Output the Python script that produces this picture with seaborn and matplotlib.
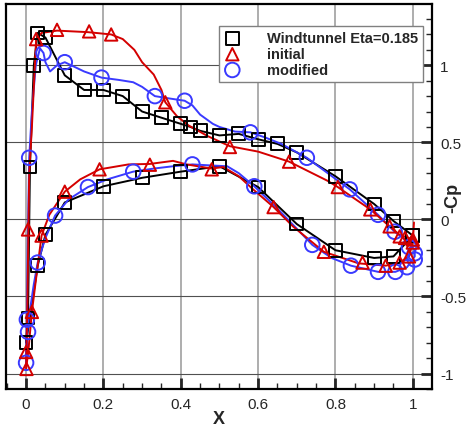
import matplotlib
matplotlib.use("Agg")
import matplotlib.pyplot as plt
from matplotlib.ticker import MultipleLocator, FuncFormatter
import seaborn as sns

# Windtunnel measurement (upper TE -> LE -> lower TE)
wt_x = [1.0, 0.95, 0.90, 0.80, 0.70, 0.65, 0.60, 0.55, 0.50, 0.45, 0.425, 0.40,
        0.35, 0.30, 0.25, 0.20, 0.15, 0.10, 0.05, 0.03, 0.02, 0.01, 0.005, 0.0,
        0.03, 0.05, 0.10, 0.20, 0.30, 0.40, 0.50, 0.60, 0.70, 0.80, 0.90, 0.95, 1.0]
wt_y = [-0.105, -0.01, 0.10, 0.28, 0.435, 0.49, 0.52, 0.555, 0.545, 0.575, 0.60, 0.62,
        0.66, 0.70, 0.80, 0.84, 0.84, 0.935, 1.18, 1.21, 1.0, 0.34, -0.64, -0.80,
        -0.30, -0.10, 0.11, 0.215, 0.27, 0.31, 0.345, 0.21, -0.03, -0.20, -0.25, -0.24, -0.105]

# initial CFD curve
ini_x = [1.0, 0.966, 0.94, 0.89, 0.806, 0.78, 0.68, 0.60, 0.527, 0.47, 0.42, 0.39,
         0.36, 0.35, 0.33, 0.30, 0.28, 0.25, 0.22, 0.16, 0.08, 0.04, 0.026, 0.015,
         0.008, 0.006, 0.003, 0.0,
         0.006, 0.015, 0.03, 0.04, 0.06, 0.10, 0.14, 0.19, 0.265, 0.32, 0.38, 0.415,
         0.48, 0.51, 0.55, 0.587, 0.64, 0.69, 0.77, 0.86, 0.93, 0.966, 0.99, 1.0, 1.003]
ini_y = [-0.13, -0.10, -0.045, 0.065, 0.21, 0.25, 0.375, 0.44, 0.475, 0.54, 0.61, 0.67,
         0.76, 0.84, 0.94, 1.02, 1.10, 1.17, 1.20, 1.215, 1.225, 1.21, 1.17, 0.6,
         0.3, -0.065, -0.6, -0.97,
         -0.85, -0.60, -0.30, -0.105, 0.03, 0.18, 0.26, 0.325, 0.357, 0.36, 0.38, 0.357,
         0.33, 0.34, 0.28, 0.195, 0.08, -0.045, -0.21, -0.285, -0.30, -0.28, -0.24, -0.15, -0.02]
ini_mx = [0.026, 0.08, 0.163, 0.22, 0.36, 0.527, 0.68, 0.806, 0.89, 0.94, 0.966, 0.98, 1.0,
          0.005, 0.0, 0.001, 0.015,
          0.04, 0.10, 0.19, 0.32, 0.48, 0.64, 0.77, 0.87, 0.93, 0.966, 0.99, 1.0]
ini_my = [1.17, 1.23, 1.22, 1.20, 0.76, 0.47, 0.375, 0.21, 0.065, -0.045, -0.11, -0.12, -0.13,
          -0.065, -0.86, -0.97, -0.60,
          -0.105, 0.18, 0.325, 0.355, 0.325, 0.08, -0.21, -0.28, -0.30, -0.28, -0.24, -0.15]

# modified CFD curve
mod_x = [1.005, 0.985, 0.953, 0.91, 0.837, 0.78, 0.726, 0.66, 0.62, 0.58, 0.54, 0.50,
         0.483, 0.45, 0.43, 0.41, 0.37, 0.333, 0.30, 0.277, 0.24, 0.195, 0.15, 0.10,
         0.08, 0.062, 0.05, 0.045, 0.036, 0.025, 0.015, 0.008, 0.004, 0.002, 0.0,
         0.003, 0.008, 0.02, 0.03, 0.05, 0.075, 0.11, 0.16, 0.21, 0.277, 0.33, 0.38,
         0.43, 0.48, 0.52, 0.55, 0.59, 0.65, 0.70, 0.74, 0.79, 0.84, 0.91, 0.955, 0.985, 1.005, 1.005]
mod_y = [-0.2, -0.14, -0.08, 0.03, 0.195, 0.30, 0.40, 0.49, 0.53, 0.565, 0.57, 0.60,
         0.62, 0.68, 0.74, 0.77, 0.785, 0.80, 0.86, 0.89, 0.905, 0.92, 0.96, 1.02,
         1.0, 0.96, 1.02, 1.08, 1.11, 1.0, 0.7, 0.40, -0.2, -0.65, -0.93,
         -0.73, -0.62, -0.42, -0.28, -0.12, 0.025, 0.13, 0.21, 0.26, 0.31, 0.33, 0.345,
         0.357, 0.35, 0.345, 0.30, 0.215, 0.07, -0.06, -0.165, -0.25, -0.30, -0.34, -0.34, -0.31, -0.24, -0.2]
mod_mx = [0.045, 0.10, 0.195, 0.333, 0.41, 0.58, 0.726, 0.837, 0.91, 0.953, 0.99, 1.005,
          0.008, 0.002, 0.005, 0.0,
          0.03, 0.075, 0.16, 0.277, 0.43, 0.59, 0.74, 0.84, 0.91, 0.955, 0.985, 1.005]
mod_my = [1.08, 1.02, 0.92, 0.80, 0.77, 0.565, 0.40, 0.195, 0.03, -0.08, -0.18, -0.22,
          0.40, -0.65, -0.73, -0.93,
          -0.28, 0.025, 0.21, 0.31, 0.357, 0.215, -0.165, -0.30, -0.34, -0.34, -0.31, -0.26]

red = "#d40000"
blue = "#3a3aff"

sns.set_style("white")
plt.rcParams['font.family'] = ['Liberation Sans', 'DejaVu Sans']
plt.rcParams['axes.unicode_minus'] = False

fig = plt.figure(figsize=(4.71, 4.27), dpi=100)
ax = fig.add_axes([0.0127, 0.0867, 0.904, 0.901])

# grid
for v in [0, 0.2, 0.4, 0.6, 0.8, 1.0]:
    ax.axvline(v, color="#a0a0a0", lw=1.2, zorder=0)
for v in [-1, -0.5, 0, 0.5, 1]:
    ax.axhline(v, color="#505050", lw=0.8, zorder=0)

sns.lineplot(x=wt_x, y=wt_y, sort=False, estimator=None, color="black", lw=1.4, ax=ax)
sns.lineplot(x=mod_x, y=mod_y, sort=False, estimator=None, color=blue, lw=1.4, ax=ax)
sns.lineplot(x=ini_x, y=ini_y, sort=False, estimator=None, color=red, lw=1.4, ax=ax)

h1 = ax.scatter(wt_x, wt_y, marker="s", s=85, facecolors="none", edgecolors="black",
                linewidths=1.4, label="Windtunnel Eta=0.185", zorder=3)
h3 = ax.scatter(mod_mx, mod_my, marker="o", s=110, facecolors="none", edgecolors=blue,
                linewidths=1.4, label="modified", zorder=3)
h2 = ax.scatter(ini_mx, ini_my, marker="^", s=80, facecolors="none", edgecolors=red,
                linewidths=1.4, label="initial", zorder=4)

ax.set_xlim(-0.052, 1.049)
ax.set_ylim(-1.1, 1.396)

ax.yaxis.tick_right()
ax.yaxis.set_label_position("right")
ax.xaxis.set_major_locator(MultipleLocator(0.2))
ax.xaxis.set_minor_locator(MultipleLocator(0.05))
ax.yaxis.set_major_locator(MultipleLocator(0.5))
ax.yaxis.set_minor_locator(MultipleLocator(0.1))
fmt = FuncFormatter(lambda v, p: "%g" % round(v, 2))
ax.xaxis.set_major_formatter(fmt)
ax.yaxis.set_major_formatter(fmt)
ax.tick_params(which="major", direction="in", length=8, width=2, labelsize=11,
               bottom=True, right=True, left=False, top=False, pad=6)
ax.tick_params(which="minor", direction="in", length=4, width=1,
               bottom=True, right=True, left=False, top=False)
for s in ax.spines.values():
    s.set_linewidth(1.6)
    s.set_color("black")

ax.set_xlabel("X", fontsize=13, fontweight="bold")
ax.xaxis.set_label_coords(0.5, -0.055)
ax.set_ylabel("-Cp", fontsize=13, fontweight="bold")
ax.yaxis.set_label_coords(1.03, 0.5)

leg = ax.legend(handles=[h1, h2, h3], loc="upper right", bbox_to_anchor=(0.979, 0.943),
                borderaxespad=0, frameon=True, fancybox=False, framealpha=1,
                edgecolor="#808080", prop={"weight": "bold", "size": 10.5},
                handlelength=1.1, handletextpad=1.8, labelspacing=0.12, borderpad=0.35)
leg.get_frame().set_linewidth(1.0)

fig.savefig("out.png", dpi=100)
